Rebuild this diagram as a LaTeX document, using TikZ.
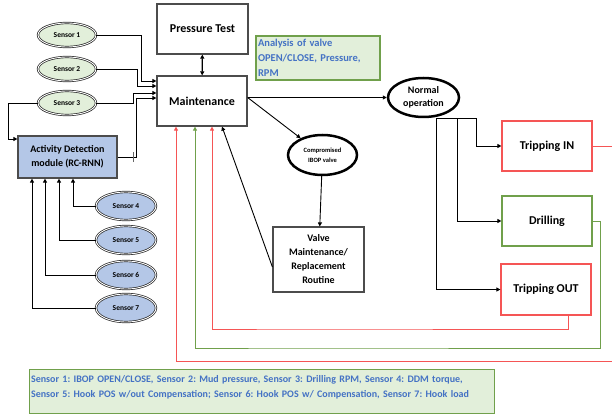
\documentclass[tikz,border=0pt]{standalone}
\usepackage{fontspec}
\setmainfont{Carlito}
\frenchspacing
\usetikzlibrary{calc,shapes.geometric,arrows.meta}
\definecolor{redline}{RGB}{245,85,85}
\definecolor{greenline}{RGB}{112,160,75}
\definecolor{greenfill}{RGB}{226,239,218}
\definecolor{bluefill}{RGB}{180,199,231}
\definecolor{bluetext}{RGB}{68,114,196}
\tikzset{
	box/.style={draw=black!70, line width=1.2pt, fill=white, font=\bfseries, align=center, inner sep=2pt},
	sensorgreen/.style={ellipse, draw=black!85, double=white, double distance=0.9pt, line width=0.7pt, fill=greenfill, minimum width=58pt, minimum height=24pt, inner sep=0pt, font=\bfseries\fontsize{7.5}{8}\selectfont},
	sensorblue/.style={sensorgreen, fill=bluefill, minimum width=60pt, minimum height=28pt},
	statebox/.style={ellipse, draw=black, line width=2.5pt, fill=white, align=center, inner sep=0pt, font=\bfseries},
	arr/.style={-{Triangle[length=4pt,width=4pt]}, line width=0.9pt},
	fb/.style={-{Triangle[length=4pt,width=4pt]}, line width=0.8pt}
}

\begin{document}
\begin{tikzpicture}[x=1pt, y=-1pt]
			%%%%% START %%%%%
			\useasboundingbox (0,0) rectangle (612,414);
			
			% main boxes
			\node[box, minimum width=91pt, minimum height=50pt, font=\bfseries\fontsize{12}{14}\selectfont] (pt) at (202.5,29) {Pressure Test};
			\node[box, minimum width=90pt, minimum height=50pt, font=\bfseries\fontsize{12}{14}\selectfont] (mt) at (202,101) {Maintenance};
			\node[box, draw=greenline, fill=greenfill, text=bluetext, minimum width=124pt, minimum height=44pt, align=left, text width=120pt, inner sep=1pt, font=\bfseries\fontsize{10.5}{15}\selectfont] (an) at (318,58) {Analysis of valve\\OPEN/CLOSE, Pressure,\\RPM};
			\node[box, fill=bluefill, minimum width=99pt, minimum height=42pt, font=\bfseries\fontsize{10}{14}\selectfont] (adm) at (67.5,157) {Activity Detection\\module (RC-RNN)};
			
			% sensors
			\node[sensorgreen] (s1) at (67,35) {Sensor 1};
			\node[sensorgreen] (s2) at (67,69) {Sensor 2};
			\node[sensorgreen] (s3) at (67,103) {Sensor 3};
			\node[sensorblue] (s4) at (126,206) {Sensor 4};
			\node[sensorblue] (s5) at (126,240) {Sensor 5};
			\node[sensorblue] (s6) at (126,275) {Sensor 6};
			\node[sensorblue] (s7) at (126,308) {Sensor 7};
			
			% states
			\node[statebox, minimum width=71pt, minimum height=39pt, font=\bfseries\fontsize{10}{13}\selectfont] (no) at (423.5,97.5) {Normal\\operation};
			\node[statebox, minimum width=69pt, minimum height=40pt, font=\bfseries\fontsize{6.5}{10}\selectfont] (cv) at (322.5,155) {Compromised\\IBOP valve};
			\node[box, minimum width=91pt, minimum height=65pt, font=\bfseries\fontsize{10}{14}\selectfont] (vr) at (318.5,259.5) {Valve\\Maintenance/\\Replacement\\Routine};
			\node[box, draw=redline, minimum width=90pt, minimum height=50pt, font=\bfseries\fontsize{12}{14}\selectfont] (ti) at (547,146) {Tripping IN};
			\node[box, draw=greenline, minimum width=90pt, minimum height=50pt, font=\bfseries\fontsize{12}{14}\selectfont] (dr) at (547,221) {Drilling};
			\node[box, draw=redline, minimum width=90pt, minimum height=51pt, font=\bfseries\fontsize{12}{14}\selectfont] (to) at (546,289.5) {Tripping OUT};
			
			% legend
			\node[box, draw=greenline, fill=greenfill, text=bluetext, minimum width=465pt, minimum height=44pt, align=left, text width=462pt, anchor=north west, inner sep=1pt, font=\bfseries\fontsize{10}{15}\selectfont] (lg) at (29,369) {Sensor 1: IBOP OPEN/CLOSE, Sensor 2: Mud pressure, Sensor 3: Drilling RPM, Sensor 4: DDM torque,\\Sensor 5: Hook POS w/out Compensation; Sensor 6: Hook POS w/ Compensation, Sensor 7: Hook load\\[-4pt]\mbox{}};
			
			% sensor inputs
			\draw[arr] (s1.east) -| ([xshift=-15pt,yshift=20pt]mt.west) -- ([yshift=20pt]mt.west);
			\draw[arr] (s2.east) -| ([xshift=-19pt,yshift=15pt]mt.west) -- ([yshift=15pt]mt.west);
			\draw[arr] (s3.east) -| ([xshift=-23pt,yshift=8pt]mt.west) -- ([yshift=8pt]mt.west);
			\draw[arr] (s3.west) -- ++(-29,0) |- ([yshift=18pt]adm.west);
			\draw[arr] (adm.east) -| ([xshift=-20pt,yshift=3pt]mt.west) -- ([yshift=3pt]mt.west);
			\draw[line width=0.5pt, black!60] ([xshift=16pt,yshift=-5pt]adm.east) -- ([xshift=16pt,yshift=5pt]adm.east);
			\draw[arr] (s4.west) -| ([xshift=5.5pt]adm.south);
			\draw[arr] (s5.west) -| ([xshift=-8.5pt]adm.south);
			\draw[arr] (s6.west) -| ([xshift=-22.5pt]adm.south);
			\draw[arr] (s7.west) -| ([xshift=-35.5pt]adm.south);
			
			% maintenance flow
			\draw[{Triangle[length=4pt,width=4pt]}-{Triangle[length=4pt,width=4pt]}, line width=1.2pt] (pt) -- (mt);
			\draw[arr] (mt.east |- no) -- (no.west);
			\draw[arr] (mt.east |- no) -- (cv);
			\draw[arr] (cv) -- (vr);
			\draw[arr] ([yshift=-7.5pt]vr.west) -- ([xshift=20pt]mt.south);
			
			% normal operation branches
			\coordinate (nb) at ([xshift=12.5pt]no.south);
			\draw[arr] (nb) -- ++(40,0) |- (ti.west);
			\draw[arr] (nb) -- ++(21,0) |- (dr.west);
			\draw[arr] (nb) |- (to.west);
			
			% feedback
			\draw[fb, redline] (ti.east) -- (625,146) -- (625,361) -| ([xshift=-26pt]mt.south);
			\draw[fb, greenline] (dr.east) -- (600,221) |- (300,348) -| ([xshift=-7pt]mt.south);
			\draw[fb, redline] ([xshift=22pt]to.south) |- (300,329) -| ([xshift=10pt]mt.south);
			
			%%%%% END %%%%%
		\end{tikzpicture}
\end{document}
